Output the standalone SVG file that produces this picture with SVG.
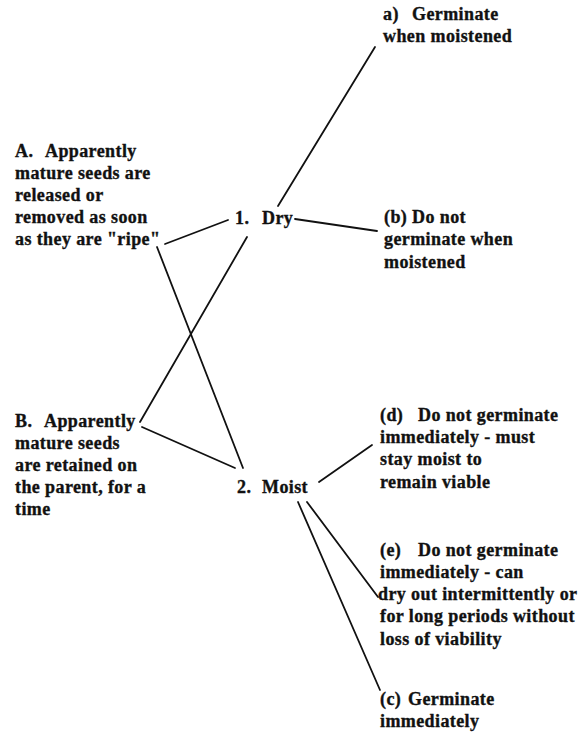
<svg xmlns="http://www.w3.org/2000/svg" width="583" height="745" viewBox="0 0 583 745">
<style>
text{font-family:"Liberation Serif","Times New Roman",serif;font-weight:bold;font-size:18px;fill:#111;stroke:#111;stroke-width:0.35;letter-spacing:0.4px}
.c line{stroke:#111;stroke-width:1.8;stroke-linecap:round}
</style>
<rect width="583" height="745" fill="#fff"/>
<g class="c" id="connectors">
<line x1="375" y1="47" x2="278" y2="206"/>
<line x1="295" y1="219" x2="377" y2="231"/>
<line x1="165" y1="244" x2="228" y2="220"/>
<line x1="157" y1="247" x2="243" y2="468"/>
<line x1="247" y1="237" x2="140" y2="422"/>
<line x1="142" y1="427" x2="235" y2="468"/>
<line x1="319" y1="482" x2="372" y2="445"/>
<line x1="307" y1="502" x2="378" y2="597"/>
<line x1="298" y1="502" x2="380" y2="690"/>
</g>
<g id="nodeA">
<text x="15" y="157">A. <tspan x="45">Apparently</tspan></text>
<text x="15" y="179">mature seeds are</text>
<text x="15" y="201">released or</text>
<text x="15" y="223">removed as soon</text>
<text x="15" y="245">as they are "ripe"</text>
</g>
<g id="nodeB">
<text x="15" y="427">B. <tspan x="44">Apparently</tspan></text>
<text x="15" y="449">mature seeds</text>
<text x="15" y="471">are retained on</text>
<text x="15" y="493">the parent, for a</text>
<text x="15" y="515">time</text>
</g>
<g id="node1">
<text x="235" y="224">1. <tspan x="262">Dry</tspan></text>
</g>
<g id="node2">
<text x="237" y="493">2. <tspan x="262">Moist</tspan></text>
</g>
<g id="nodea">
<text x="383" y="20">a) <tspan x="412">Germinate</tspan></text>
<text x="383" y="42">when moistened</text>
</g>
<g id="nodeb">
<text x="384" y="223">(b) Do not</text>
<text x="384" y="245">germinate when</text>
<text x="384" y="268">moistened</text>
</g>
<g id="noded">
<text x="380" y="421">(d) <tspan x="418">Do not germinate</tspan></text>
<text x="380" y="443">immediately - must</text>
<text x="380" y="465">stay moist to</text>
<text x="380" y="488">remain viable</text>
</g>
<g id="nodee">
<text x="380" y="556">(e) <tspan x="418">Do not germinate</tspan></text>
<text x="380" y="578">immediately - can</text>
<text x="378" y="600">dry out intermittently or</text>
<text x="380" y="622">for long periods without</text>
<text x="380" y="645">loss of viability</text>
</g>
<g id="nodec">
<text x="380" y="705">(c) <tspan x="408">Germinate</tspan></text>
<text x="380" y="727">immediately</text>
</g>
</svg>
